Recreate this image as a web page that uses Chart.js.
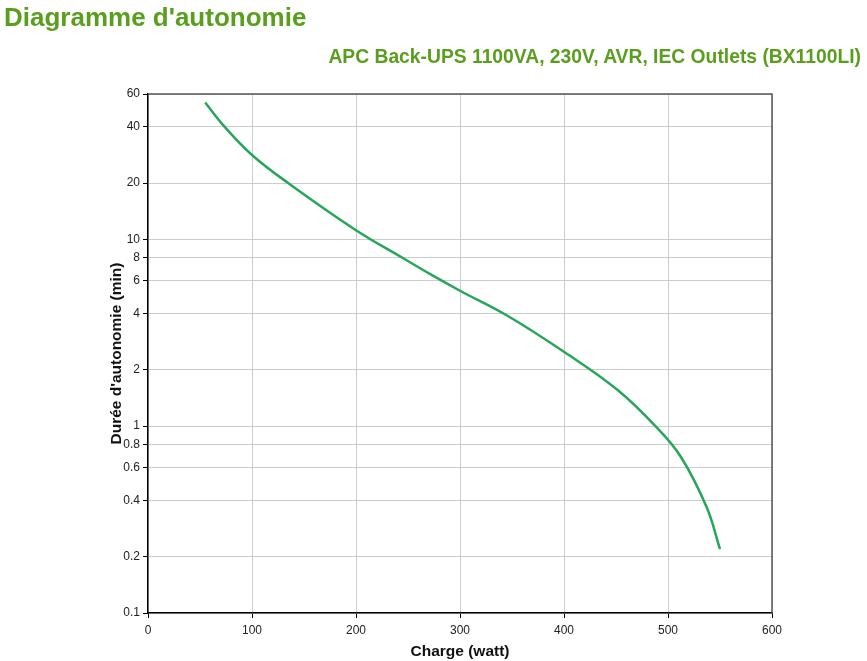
<!DOCTYPE html>
<html>
<head>
<meta charset="utf-8">
<script src="https://cdn.jsdelivr.net/npm/chart.js@4.4.1/dist/chart.umd.min.js"></script>
<style>
  html, body { margin: 0; padding: 0; background: #fff; }
  #wrap { position: relative; width: 867px; height: 661px; }
  h1 { position: absolute; left: 4px; top: 2px; margin: 0; font: bold 26px "Liberation Sans", Arial, sans-serif; color: #5a9e1e; }
  h2 { position: absolute; right: 6px; top: 46px; margin: 0; font: bold 19.3px "Liberation Sans", Arial, sans-serif; color: #5a9e1e; }
  canvas { position: absolute; left: 0; top: 0; }
</style>
</head>
<body>
<div id="wrap">
  <canvas id="chart" width="867" height="661"></canvas>
  <h1>Diagramme d'autonomie</h1>
  <h2>APC Back-UPS 1100VA, 230V, AVR, IEC Outlets (BX1100LI)</h2>
</div>
<script>
// charge (W) / autonomie (min)
const loadWatts = [55, 72, 100, 136, 200, 245, 271, 300, 346, 401, 451, 488, 512, 537, 550]
const runtimeMin = [54, 41, 28.3, 19.8, 11.2, 7.95, 6.53, 5.31, 3.89, 2.48, 1.57, 1.0, 0.69, 0.37, 0.22]
const yTicks = [0.1, 0.2, 0.4, 0.6, 0.8, 1, 2, 4, 6, 8, 10, 20, 40, 60]
const xTicks = [0, 100, 200, 300, 400, 500, 600]

const font = { family: '"Liberation Sans", Arial, sans-serif', size: 12 }
const titleFont = { family: font.family, size: 15.5, weight: 'bold' }

// cadre haut + droite
const frame = {
  id: 'frame',
  afterDraw(chart){
    const { ctx, chartArea: a } = chart
    ctx.save()
    ctx.strokeStyle = '#555'
    ctx.lineWidth = 1.5
    ctx.beginPath()
    ctx.moveTo(a.left, a.top)
    ctx.lineTo(a.right, a.top)
    ctx.lineTo(a.right, a.bottom)
    ctx.stroke()
    ctx.restore()
  }
}

new Chart(document.getElementById('chart'), {
  type: 'line',
  data: {
    datasets: [{
      data: loadWatts.map((x, i) => ({ x, y: runtimeMin[i] })),
      borderColor: '#27a65a',
      borderWidth: 2.5,
      pointRadius: 0,
      tension: 0.4,
      fill: false
    }]
  },
  options: {
    responsive: false,
    animation: false,
    layout: { padding: { top: 94, right: 95, left: 103, bottom: 0 } },
    plugins: { legend: { display: false }, tooltip: { enabled: false } },
    scales: {
      x: {
        type: 'linear',
        min: 0,
        max: 600,
        afterFit(scale){ scale.height = 48 },
        afterBuildTicks(scale){ scale.ticks = xTicks.map(v => ({ value: v })) },
        grid: { color: '#cccccc', tickColor: '#000', tickLength: 5 },
        border: { color: '#000', width: 1.5 },
        ticks: { color: '#222', font, padding: 5 },
        title: { display: true, text: 'Charge (watt)', color: '#111', font: titleFont, padding: { top: 0, bottom: 0 } }
      },
      y: {
        type: 'logarithmic',
        min: 0.1,
        max: 60,
        afterFit(scale){ scale.width = 45 },
        afterBuildTicks(scale){ scale.ticks = yTicks.map(v => ({ value: v })) },
        grid: { color: '#cccccc', tickColor: '#000', tickLength: 5 },
        border: { color: '#000', width: 1.5 },
        ticks: { color: '#222', font, padding: 3, callback: v => String(v) },
        title: { display: true, text: "Durée d'autonomie (min)", color: '#111', font: titleFont, padding: { bottom: 0 } }
      }
    }
  },
  plugins: [frame]
})
</script>
</body>
</html>
